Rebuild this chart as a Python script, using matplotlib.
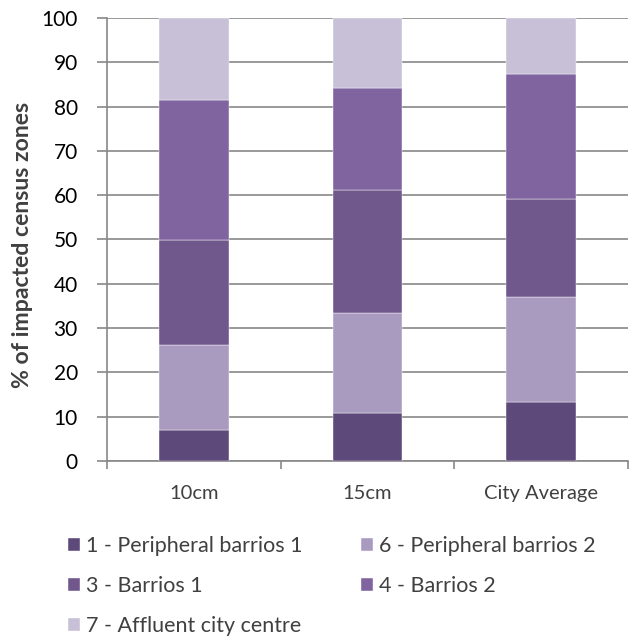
import matplotlib
matplotlib.use("Agg")
import matplotlib.pyplot as plt
import numpy as np

# 데이터
categories = ["10cm", "15cm", "City Average"]
series_names = ["1 - Peripheral barrios 1", "6 - Peripheral barrios 2",
                "3 - Barrios 1", "4 - Barrios 2", "7 - Affluent city centre"]
peripheral1 = [7.0, 10.9, 13.2]
peripheral2 = [19.2, 22.4, 23.8]
barrios1 = [23.7, 27.8, 22.2]
barrios2 = [31.6, 23.2, 28.1]
affluent = [18.5, 15.7, 12.7]
colors = ["#5E4A7A", "#A99BBF", "#70578C", "#8064A0", "#C7C0D6"]

plt.rcParams["font.family"] = ["Lato", "DejaVu Sans"]

fig = plt.figure(figsize=(6.37, 6.42), dpi=100)
ax = fig.add_axes([0.168, 0.282, 0.818, 0.690])

x = np.arange(len(categories))
bottom = np.zeros(len(categories))
bars = []
for name, vals, c in zip(series_names, [peripheral1, peripheral2, barrios1, barrios2, affluent], colors):
    b = ax.bar(x, vals, 0.4, bottom=bottom, color=c, label=name, zorder=3,
               edgecolor="white", linewidth=0.3)
    bars.append(b)
    bottom += np.array(vals)

ax.set_xlim(-0.5, 2.5)
ax.set_ylim(0, 100)
ax.set_yticks(range(0, 101, 10))
ax.set_xticks([-0.5, 0.5, 1.5, 2.5])
ax.set_xticklabels([])
ax.set_xticks(x, minor=True)
ax.set_xticklabels(categories, minor=True)
ax.tick_params(axis="x", which="minor", length=0, labelsize=14.5, colors="#404040", pad=17)
ax.tick_params(axis="x", which="major", length=6, color="#888888", width=1.2)
ax.tick_params(axis="y", length=7, color="#888888", width=1.2, labelsize=15, pad=14)
for lab in ax.get_yticklabels():
    lab.set_color("black")
ax.grid(axis="y", color="#888888", linewidth=1.2, zorder=0)
ax.set_axisbelow(True)
for s in ["top", "right"]:
    ax.spines[s].set_visible(False)
ax.spines["left"].set_color("#888888")
ax.spines["bottom"].set_color("#888888")
ax.spines["left"].set_linewidth(1.2)
ax.spines["bottom"].set_linewidth(1.2)

ylab = ax.set_ylabel("% of impacted census zones", fontsize=13, fontweight="bold", color="#404040")
ax.yaxis.set_label_coords(-0.142, 0.488)

# 글자 크기를 원본 길이(픽셀)에 맞춘다
fig.canvas.draw()
h = ylab.get_window_extent().height
ylab.set_fontsize(13 * 286 / h)

# 범례 순서: 열 우선으로 채우기
order = [0, 2, 4, 1, 3]
handles = [bars[i] for i in order]
labels = [series_names[i] for i in order]
leg = fig.legend(handles, labels, loc="upper left", bbox_to_anchor=(0.107, 0.165),
                 ncol=2, frameon=False, fontsize=15.5, handlelength=0.55, handleheight=0.55,
                 handletextpad=0.3, columnspacing=2.7, labelspacing=0.92,
                 borderpad=0, borderaxespad=0)
for t in leg.get_texts():
    t.set_color("#404040")

plt.savefig("out.png", dpi=100)
